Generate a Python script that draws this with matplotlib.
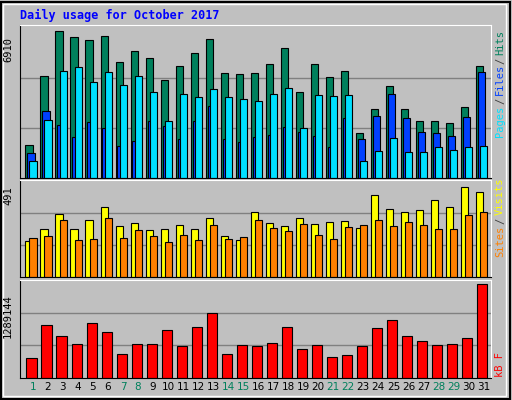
import matplotlib
matplotlib.use('Agg')
import matplotlib.pyplot as plt
import numpy as np

# values
days = list(range(1, 32))
weekend = [1, 7, 8, 14, 15, 21, 22, 28, 29]
hits = [1536, 4715, 6789, 6513, 6374, 6559, 5361, 5868, 5545, 4531, 5176, 5775, 6420,
        4854, 4808, 4854, 5268, 6006, 3978, 5268, 4669, 4946, 2089, 3195, 4255, 3195,
        2642, 2642, 2550, 3287, 5176]
files = [1160, 3100, 2460, 1900, 2600, 2320, 1490, 1720, 2640, 2410, 1810, 2640, 3330,
         1810, 1670, 1900, 2000, 2360, 2130, 1950, 1440, 2780, 1810, 2870, 3890, 2780,
         2130, 2090, 1950, 2830, 4900]
pages = [800, 2690, 4950, 5130, 4440, 4900, 4300, 4710, 3980, 2640, 3890, 3710, 4110,
         3710, 3620, 3530, 3890, 4160, 2320, 3840, 3790, 3840, 800, 1260, 1860, 1210,
         1210, 1440, 1300, 1440, 1490]
visits = [184, 245, 321, 245, 290, 356, 260, 275, 240, 245, 265, 245, 301, 210, 189,
          332, 275, 260, 301, 270, 280, 286, 250, 419, 348, 332, 343, 394, 356, 462, 437]
sites = [199, 209, 290, 189, 194, 301, 199, 240, 209, 179, 214, 189, 265, 194, 204,
         290, 250, 235, 270, 214, 194, 255, 265, 290, 260, 280, 265, 245, 245, 315, 332]
kbytes = [262000, 694000, 559000, 451000, 721000, 600000, 316000, 451000, 451000,
          627000, 424000, 667000, 856000, 316000, 437000, 424000, 464000, 667000,
          383000, 437000, 275000, 302000, 424000, 654000, 762000, 559000, 491000,
          437000, 451000, 532000, 1235000]

bg = '#c0c0c0'
fig = plt.figure(figsize=(5.12, 4.0), dpi=100, facecolor=bg)
W, H = 512.0, 400.0
mono = 'DejaVu Sans Mono'

def panel(top, bottom):
    ax = fig.add_axes([20 / W, 1 - bottom / H, 471 / W, (bottom - top) / H])
    ax.set_facecolor(bg)
    ax.set_xlim(-0.36, 31.0)
    ax.set_xticks([])
    ax.set_yticks([])
    for s in ax.spines.values():
        s.set_color('black')
    ax.spines['right'].set_color('white')
    ax.spines['top'].set_color('white')
    return ax

x = np.arange(31)
kw = dict(align='edge', edgecolor='black', linewidth=0.8)

# top panel: hits / files / pages
ax1 = panel(25, 178)
ax1.set_ylim(0, 6910 * 1.02)
for g in [6910 / 3, 6910 * 2 / 3]:
    ax1.axhline(g, color='#808080', linewidth=1, zorder=0)
ax1.bar(x, hits, 0.49, color='#00805c', **kw)
ax1.bar(x + 0.13, files, 0.49, color='#0040ff', **kw)
ax1.bar(x + 0.27, pages, 0.49, color='#00e0ff', **kw)

# middle panel: visits / sites
ax2 = panel(180, 277)
ax2.set_ylim(0, 491 * 1.01)
for g in [491 / 3, 491 * 2 / 3]:
    ax2.axhline(g, color='#808080', linewidth=1, zorder=0)
ax2.bar(x, visits, 0.49, color='#ffff00', **kw)
ax2.bar(x + 0.27, sites, 0.49, color='#ff8000', **kw)

# bottom panel: kB
ax3 = panel(280, 378)
ax3.set_ylim(0, 1289144)
for g in [1289144 / 3, 1289144 * 2 / 3]:
    ax3.axhline(g, color='#808080', linewidth=1, zorder=0)
ax3.bar(x + 0.07, kbytes, 0.69, color='#ff0000', **kw)

for d in days:
    c = '#00805c' if d in weekend else 'black'
    ax3.text(d - 1 + 0.5, -0.04, str(d), transform=ax3.get_xaxis_transform(),
             ha='center', va='top', fontsize=7.5, color=c, family='DejaVu Sans')

# left max labels
fig.text(8 / W, 1 - 50 / H, '6910', rotation=90, fontsize=7.5, ha='center', va='center', family=mono)
fig.text(8 / W, 1 - 196 / H, '491', rotation=90, fontsize=7.5, ha='center', va='center', family=mono)
fig.text(8 / W, 1 - 316 / H, '1289144', rotation=90, fontsize=7.5, ha='center', va='center', family=mono)

# right legends
def rlab(y, s, c, va='bottom'):
    fig.text(500 / W, 1 - y / H, s, rotation=90, fontsize=7.5, color=c, ha='center', va=va, family=mono)

rlab(137, 'Pages', '#00e0ff')
rlab(101, '/', '#404040', 'center')
rlab(95, 'Files', '#0040ff')
rlab(61, '/', '#404040', 'center')
rlab(55, 'Hits', '#00805c')
rlab(257, 'Sites', '#ff8000')
rlab(221, '/', '#404040', 'center')
rlab(215, 'Visits', '#ffff00')
rlab(377, 'kB F', '#ff0000')

fig.text(20 / W, 1 - 15 / H, 'Daily usage for October 2017', fontsize=8.5, color='#0000ff',
         fontweight='bold', family=mono, va='center')

# outer 3D-ish border
fig.add_artist(plt.Rectangle((1 / W, 1 / H), 509 / W, 397 / H, transform=fig.transFigure,
                             fill=False, edgecolor='black', linewidth=1.5))
fig.add_artist(plt.Rectangle((3 / W, 4 / H), 503 / W, 392 / H, transform=fig.transFigure,
                             fill=False, edgecolor='white', linewidth=1))

fig.savefig('out.png', dpi=100, facecolor=bg)
